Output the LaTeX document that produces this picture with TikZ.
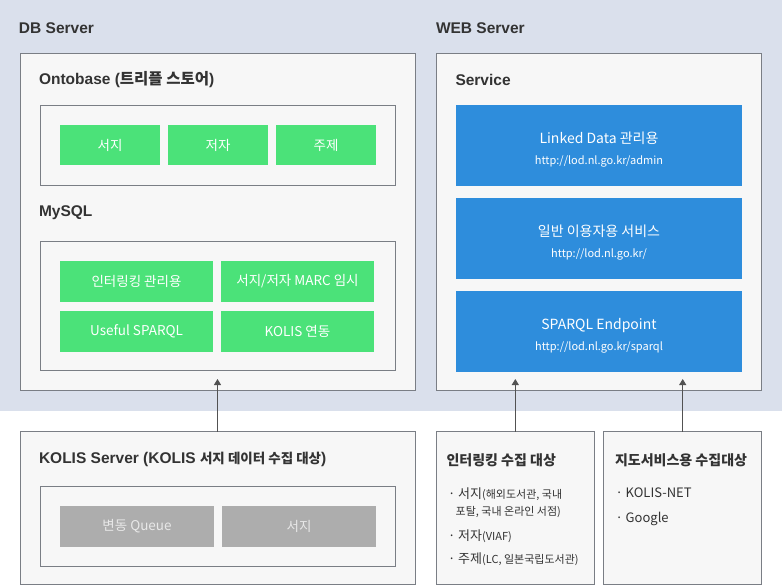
\documentclass[tikz,border=0pt]{standalone}
\usepackage{fontspec}
\setmainfont{Liberation Sans}
\newfontfamily\kr{Noto Sans CJK KR}
\usepackage{tikz}
\usetikzlibrary{arrows.meta, positioning}
\usepackage{xcolor}
\definecolor{panelbg}{RGB}{218, 224, 236}
\definecolor{boxfill}{RGB}{247, 247, 247}
\definecolor{boxline}{RGB}{122, 126, 133}
\definecolor{titlegray}{RGB}{51, 51, 51}
\definecolor{ontogreen}{RGB}{75, 226, 121}
\definecolor{svcblue}{RGB}{46, 141, 220}
\definecolor{queuegray}{RGB}{173, 173, 173}
\definecolor{queuetext}{RGB}{232, 232, 232}
\newcommand{\ko}[1]{{\kr #1}}
\newcommand{\kosmall}[1]{{\kr\fontsize{13.5}{16}\selectfont #1}}
\newcommand{\svclines}[2]{{\fontsize{14}{16}\selectfont\rule{0pt}{19pt}#1}\\[9pt]{\fontsize{11}{12}\selectfont #2}}
\newcommand{\paren}[1]{{\fontsize{11}{13}\selectfont #1}}

\begin{document}
\begin{tikzpicture}[x=1pt, y=-1pt,
	every node/.style={inner sep=0pt, outer sep=0pt},
	node distance=8pt,
	serverbox/.style={draw=boxline, fill=boxfill, line width=0.9pt, anchor=north west},
	framebox/.style={draw=boxline, fill=boxfill, line width=0.9pt, anchor=north west,
		minimum width=355pt},
	headtext/.style={anchor=west, text=titlegray, font=\fontsize{15.5}{18}\selectfont\bfseries},
	kohead/.style={anchor=west, text=titlegray, font=\kr\fontsize{14}{17}\selectfont\bfseries},
	ontocell/.style={fill=ontogreen, text=white, minimum width=100pt, minimum height=40pt,
		font=\kr\fontsize{13.5}{16}\selectfont},
	sqlcell/.style={fill=ontogreen, text=white, minimum width=153pt, minimum height=41pt,
		font=\kr\fontsize{13.5}{16}\selectfont},
	svccell/.style={fill=svcblue, text=white, minimum width=286pt, minimum height=81pt,
		align=center, font=\kr},
	queuecell/.style={fill=queuegray, text=queuetext, minimum width=154pt, minimum height=41pt,
		font=\kr\fontsize{13.5}{16}\selectfont},
	itemtext/.style={anchor=base west, text=titlegray, font=\kr\fontsize{13}{16}\selectfont},
	flowarr/.style={-{Triangle[length=6pt, width=7pt]}, line width=0.9pt, draw=titlegray!85}
	]
	\useasboundingbox (0,0) rectangle (782,585);
	\fill[panelbg] (0,0) rectangle (782,410.5);
	
	% servers
	\node[headtext] (dbtitle) at (19,28) {DB Server};
	\node[headtext] (webtitle) at (436,28) {WEB Server};
	\node[serverbox, minimum width=395pt, minimum height=337pt] (db) at (20,53) {};
	\node[serverbox, minimum width=325.4pt, minimum height=337pt] (web) at (436.3,53) {};
	\node[serverbox, minimum width=395pt, minimum height=152.6pt] (kolis) at (20,431.7) {};
	\node[serverbox, minimum width=158pt, minimum height=152.6pt] (linktarget) at (436.3,431.7) {};
	\node[serverbox, minimum width=158pt, minimum height=152.6pt] (maptarget) at (603.7,431.7) {};
	
	% Ontobase
	\node[headtext] (ontotitle) at (39,80) {Ontobase (\ko{트리플 스토어})};
	\node[framebox, minimum height=80pt] (ontoframe) at (40,105) {};
	\node[ontocell, anchor=north west] (ontobib) at (60,125) {서지};
	\node[ontocell, right=of ontobib] (ontoauthor) {저자};
	\node[ontocell, right=of ontoauthor] (ontosubject) {주제};
	
	% MySQL
	\node[headtext] (sqltitle) at (39,213) {MySQL};
	\node[framebox, minimum height=129pt] (sqlframe) at (40,241) {};
	\node[sqlcell, anchor=north west] (interlink) at (60,261) {인터링킹 관리용};
	\node[sqlcell, right=of interlink] (marc) {서지/저자 MARC 임시};
	\node[sqlcell, below=9pt of interlink] (useful) {Useful SPARQL};
	\node[sqlcell, below=9pt of marc] (kolislink) {KOLIS 연동};
	
	% Service
	\node[headtext] (svctitle) at (455.5,80) {Service};
	\node[svccell, anchor=north west] (admin) at (456,105)
	{\svclines{Linked Data 관리용}{http://lod.nl.go.kr/admin}};
	\node[svccell, below=12pt of admin] (public)
	{\svclines{일반 이용자용 서비스}{http://lod.nl.go.kr/}};
	\node[svccell, below=12pt of public] (endpoint)
	{\svclines{SPARQL Endpoint}{http://lod.nl.go.kr/sparql}};
	
	% KOLIS
	\node[headtext] (kolistitle) at (39,459) {KOLIS Server (KOLIS \kosmall{서지 데이터 수집 대상})};
	\node[framebox, minimum height=80pt] (queueframe) at (40,486) {};
	\node[queuecell, anchor=north west] (queue) at (60,506) {변동 Queue};
	\node[queuecell, right=of queue] (kolisbib) {서지};
	
	% collection targets
	\node[kohead] (linktitle) at (446.5,460) {인터링킹 수집 대상};
	\node[itemtext] (linkbib) at (448,498) {· 서지\paren{(해외도서관, 국내}};
	\node[itemtext] (linkbib2) at (455.7,515) {\paren{포탈, 국내 온라인 서점)}};
	\node[itemtext] (linkauthor) at (448,540) {· 저자\paren{(VIAF)}};
	\node[itemtext] (linksubject) at (448,563) {· 주제\paren{(LC, 일본국립도서관)}};
	
	\node[kohead] (maptitle) at (615,460) {지도서비스용 수집대상};
	\node[itemtext] (kolisnet) at (615.5,497) {· KOLIS-NET};
	\node[itemtext] (google) at (615.5,522) {· Google};
	
	\draw[flowarr] (kolis.north) -- ([yshift=11pt]kolis.north |- db.south);
	\draw[flowarr] (linktarget.north) -- ([yshift=11pt]linktarget.north |- web.south);
	\draw[flowarr] (maptarget.north) -- ([yshift=11pt]maptarget.north |- web.south);
\end{tikzpicture}
\end{document}
